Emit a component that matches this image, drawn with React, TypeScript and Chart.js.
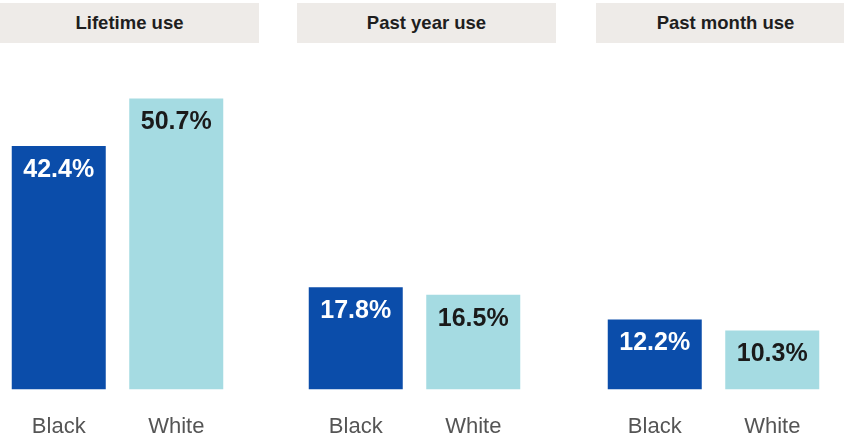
import React, { useEffect, useRef } from "react";
import { Chart, registerables } from "chart.js";

Chart.register(...registerables);

const panelTitles = ["Lifetime use", "Past year use", "Past month use"];
const categories = ["Black", "White"];
const blackValues = [42.4, 17.8, 12.2];
const whiteValues = [50.7, 16.5, 10.3];

const BLUE = "#0B4DAA";
const CYAN = "#A5DBE2";
const HEADER_BG = "#EEEBE8";
const FONT = "'Liberation Sans', Arial, Helvetica, sans-serif";

const valueLabelPlugin = {
  id: "valueLabels",
  afterDatasetsDraw(chart: any) {
    const ctx = chart.ctx;
    const meta = chart.getDatasetMeta(0);
    const data = chart.data.datasets[0].data as number[];
    ctx.save();
    ctx.font = `bold 25px ${FONT}`;
    ctx.textAlign = "center";
    ctx.textBaseline = "middle";
    meta.data.forEach((bar: any, i: number) => {
      ctx.fillStyle = i === 0 ? "#FFFFFF" : "#1A1A1A";
      ctx.fillText(`${data[i].toFixed(1)}%`, bar.x, bar.y + 24);
    });
    ctx.restore();
  },
};

function Panel({ title, values, left }: { title: string; values: number[]; left: number }) {
  const ref = useRef<HTMLCanvasElement>(null);
  useEffect(() => {
    if (!ref.current) return;
    const chart = new Chart(ref.current, {
      type: "bar",
      data: {
        labels: categories,
        datasets: [
          {
            data: values,
            backgroundColor: [BLUE, CYAN],
            borderWidth: 0,
            barPercentage: 0.8,
            categoryPercentage: 1.0,
          },
        ],
      },
      options: {
        animation: false,
        responsive: false,
        maintainAspectRatio: false,
        layout: { padding: 0 },
        plugins: { legend: { display: false }, tooltip: { enabled: false } },
        scales: {
          x: {
            grid: { display: false },
            border: { display: false },
            ticks: {
              padding: 16.5,
              color: "#555555",
              font: { family: FONT, size: 22 },
            },
          },
          y: {
            display: false,
            min: 0,
            max: 60,
          },
        },
      },
      plugins: [valueLabelPlugin],
    });
    return () => chart.destroy();
  }, []);

  return (
    <div style={{ position: "absolute", left, top: 0, width: 259, height: 437 }}>
      <div
        style={{
          position: "absolute",
          left: 0,
          top: 3,
          width: 259,
          height: 40,
          background: HEADER_BG,
          display: "flex",
          alignItems: "center",
          justifyContent: "center",
          fontFamily: FONT,
          fontWeight: "bold",
          fontSize: 18.5,
          color: "#1E1E1E",
        }}
      >
        {title}
      </div>
      <canvas
        ref={ref}
        width={235}
        height={412}
        style={{ position: "absolute", left: 0, top: 45, width: 235, height: 412 }}
      />
    </div>
  );
}

export default function App() {
  const lefts = [0, 297, 596];
  return (
    <div
      style={{
        position: "absolute",
        left: 0,
        top: 0,
        width: 844,
        height: 437,
        overflow: "hidden",
        background: "#FFFFFF",
      }}
    >
      {panelTitles.map((t, i) => (
        <Panel key={t} title={t} values={[blackValues[i], whiteValues[i]]} left={lefts[i]} />
      ))}
    </div>
  );
}
